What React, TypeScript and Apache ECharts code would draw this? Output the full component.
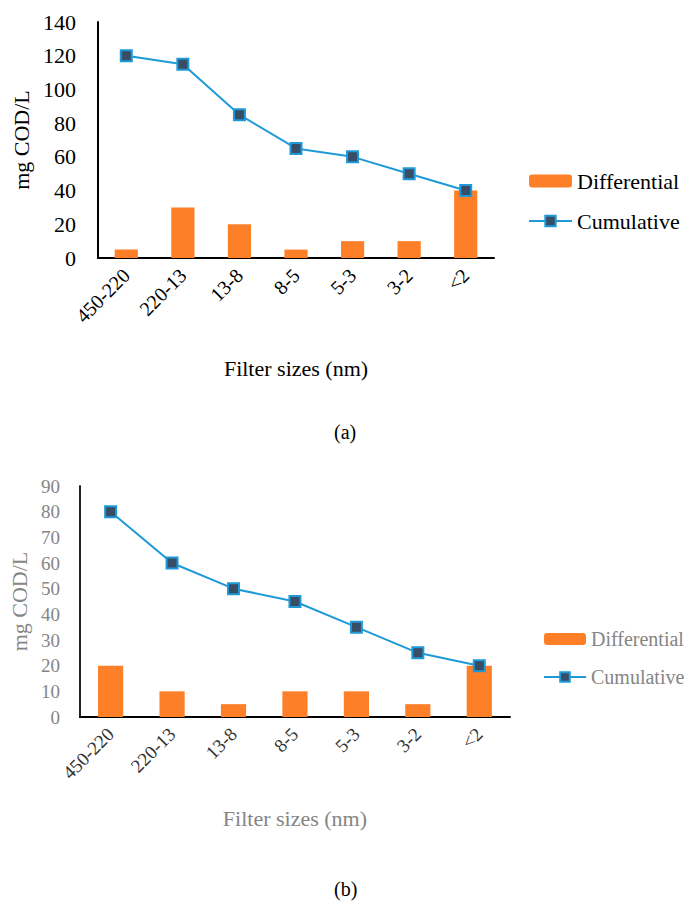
import React, { useEffect, useRef } from "react";
import * as echarts from "echarts";

const categories = ["450-220", "220-13", "13-8", "8-5", "5-3", "3-2", "<2"];
const diffA = [5, 30, 20, 5, 10, 10, 40];
const cumA = [120, 115, 85, 65, 60, 50, 40];
const diffB = [20, 10, 5, 10, 10, 5, 20];
const cumB = [80, 60, 50, 45, 35, 25, 20];

const FONT = "Liberation Serif, Times New Roman, serif";
const BAR = "#fd7f28";
const LINE = "#1e9ad8";
const MARK = "#384d66";
const GRAY = "#858585";

export default function App() {
  const ref = useRef<HTMLDivElement>(null);
  useEffect(() => {
    if (!ref.current) return;
    const chart = echarts.init(ref.current, null, { renderer: "svg" });
    const lineSeries = (data: number[], idx: number) => ({
      name: "Cumulative",
      type: "line",
      xAxisIndex: idx,
      yAxisIndex: idx,
      data,
      symbol: "rect",
      symbolSize: 11,
      lineStyle: { color: LINE, width: 2 },
      itemStyle: { color: MARK, borderColor: LINE, borderWidth: 2 },
      z: 3,
    });
    const barSeries = (data: number[], idx: number) => ({
      name: "Differential",
      type: "bar",
      xAxisIndex: idx,
      yAxisIndex: idx,
      data,
      barWidth: "41%",
      itemStyle: { color: BAR },
    });
    const xAxis = (idx: number, color: string, fs: number, gap: number, margin: number) => ({
      type: "category",
      gridIndex: idx,
      data: categories,
      axisLine: { lineStyle: { color: "#000", width: 2 } },
      axisTick: { show: false },
      axisLabel: { rotate: 45, color: idx === 0 ? "#000" : "#333", fontFamily: FONT, fontSize: fs, margin, interval: 0 },
      name: "Filter sizes (nm)",
      nameLocation: "middle",
      nameGap: gap,
      nameTextStyle: { color, fontFamily: FONT, fontSize: 22 },
    });
    const yAxis = (idx: number, max: number, interval: number, color: string, fs: number, gap: number, labelMargin: number) => ({
      type: "value",
      gridIndex: idx,
      min: 0,
      max,
      interval,
      splitLine: { show: false },
      axisLine: { show: true, lineStyle: { color: idx === 0 ? "#000" : "#222", width: 2 } },
      axisTick: { show: false },
      axisLabel: { color, fontFamily: FONT, fontSize: fs, margin: labelMargin },
      name: "mg COD/L",
      nameLocation: "middle",
      nameGap: gap,
      nameTextStyle: { color, fontFamily: FONT, fontSize: 22 },
    });
    chart.setOption({
      animation: false,
      textStyle: { fontFamily: FONT },
      grid: [
        { left: 98, top: 22, width: 396, height: 236 },
        { left: 79, top: 486, width: 431, height: 231 },
      ],
      xAxis: [xAxis(0, "#000", 20, 99, 14), xAxis(1, GRAY, 19, 90, 14)],
      yAxis: [yAxis(0, 140, 20, "#000", 22, 47, 22), yAxis(1, 90, 10, GRAY, 19, 45, 20)],
      legend: [
        {
          orient: "vertical",
          left: 528,
          top: 170,
          padding: 0,
          itemWidth: 43,
          itemHeight: 13,
          itemGap: 18,
          data: ["Differential", "Cumulative"],
          textStyle: { color: "#000", fontFamily: FONT, fontSize: 22 },
          selectedMode: false,
        },
        {
          orient: "vertical",
          left: 543,
          top: 629,
          padding: 0,
          itemWidth: 42,
          itemHeight: 12,
          itemGap: 18,
          data: ["Differential", "Cumulative"],
          textStyle: { color: GRAY, fontFamily: FONT, fontSize: 20 },
          selectedMode: false,
        },
      ],
      graphic: [
        { type: "text", left: 334, top: 422, style: { text: "(a)", font: `20px ${FONT}`, fill: "#000" } },
        { type: "text", left: 334, top: 879, style: { text: "(b)", font: `20px ${FONT}`, fill: "#000" } },
      ],
      series: [barSeries(diffA, 0), lineSeries(cumA, 0), barSeries(diffB, 1), lineSeries(cumB, 1)],
    });
    return () => chart.dispose();
  }, []);
  return (
    <div
      ref={ref}
      style={{ position: "absolute", left: 0, top: 0, width: 692, height: 901, background: "#fff" }}
    />
  );
}
